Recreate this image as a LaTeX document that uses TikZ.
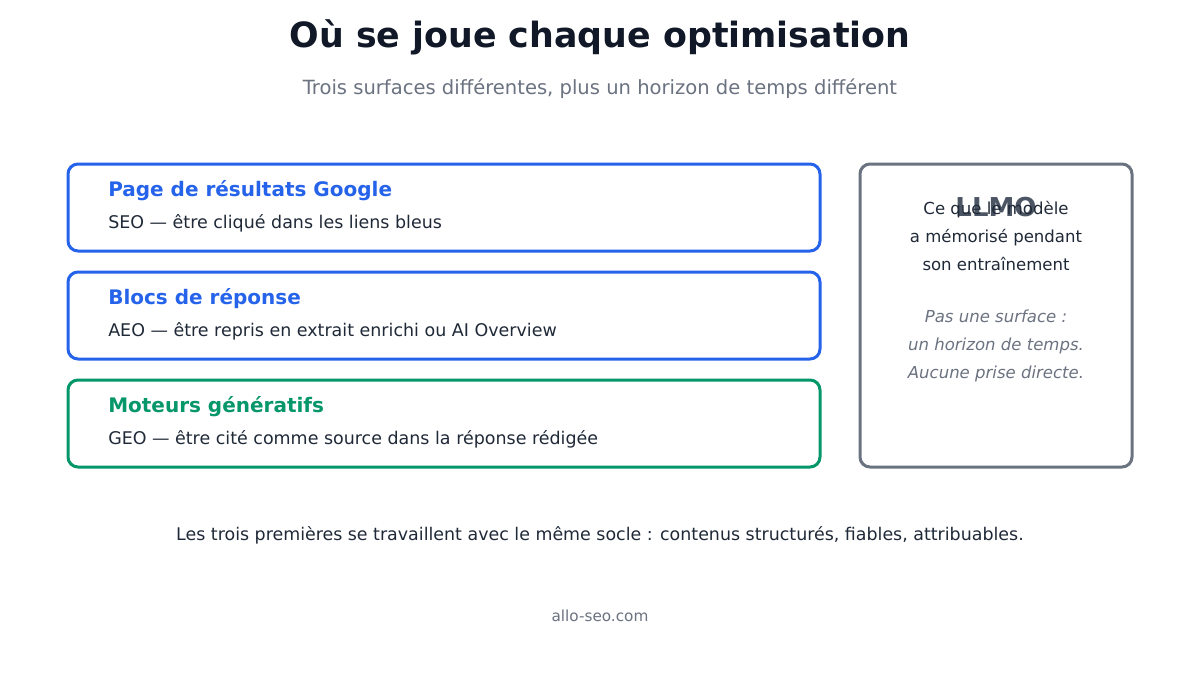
\documentclass[tikz,border=0pt]{standalone}
\usepackage{fontspec}
\setmainfont{DejaVu Sans}
\usepackage{xcolor}
\usetikzlibrary{positioning}
\definecolor{titledark}{HTML}{111827}
\definecolor{bodydark}{HTML}{1F2937}
\definecolor{mutedgray}{HTML}{6B7280}
\definecolor{labelgray}{HTML}{4B5563}
\definecolor{brightblue}{HTML}{2563EB}
\definecolor{accentgreen}{HTML}{059669}

\begin{document}
\begin{tikzpicture}[x=0.75pt, y=-0.75pt,
    surface/.style={line width=2.25pt, rounded corners=7.5pt, fill=white},
    boxtitle/.style={anchor=west, inner sep=0pt, font=\fontsize{15}{18}\selectfont\bfseries},
    boxbody/.style={anchor=west, inner sep=0pt, text=bodydark, font=\fontsize{13.1}{15}\selectfont},
    sideline/.style={inner sep=0pt, align=center, font=\fontsize{12.4}{21}\selectfont}]
    % Canvas
    \useasboundingbox[fill=white] (0,0) rectangle (1200,675);

    % Heading
    \node[text=titledark, font=\fontsize{26.1}{30}\selectfont\bfseries] (title) at (600,37) {Où se joue chaque optimisation};
    \node[text=mutedgray, font=\fontsize{14.66}{17}\selectfont] (subtitle) at (600,89) {Trois surfaces différentes, plus un horizon de temps différent};

    % Surfaces
    \draw[surface, draw=brightblue] (68,164) rectangle (820,251);
    \node[boxtitle, text=brightblue] (serp) at (108,191) {Page de résultats Google};
    \node[boxbody] (seo) at (108,223) {SEO — être cliqué dans les liens bleus};

    \draw[surface, draw=brightblue] (68,272) rectangle (820,359);
    \node[boxtitle, text=brightblue] (blocs) at (108,299) {Blocs de réponse};
    \node[boxbody] (aeo) at (108,331) {AEO — être repris en extrait enrichi ou AI Overview};

    \draw[surface, draw=accentgreen] (68,380) rectangle (820,467);
    \node[boxtitle, text=accentgreen] (moteurs) at (108,407) {Moteurs génératifs};
    \node[boxbody] (geo) at (108,439) {GEO — être cité comme source dans la réponse rédigée};

    % Time horizon
    \draw[surface, draw=mutedgray] (860,164) rectangle (1132,467);
    \node[text=labelgray, font=\fontsize{19.5}{23}\selectfont\bfseries] (llmo) at (996,207) {LLMO};
    \node[sideline, text=bodydark, anchor=north] (memoire) at (996,201) {Ce que le modèle\\a mémorisé pendant\\son entraînement};
    \node[sideline, text=mutedgray, anchor=north, font=\fontsize{12.4}{21}\selectfont\itshape] (horizon) at (996,310) {Pas une surface :\\un horizon de temps.\\Aucune prise directe.};

    % Footer
    \node[text=bodydark, font=\fontsize{13.07}{15}\selectfont] (socle) at (600,535) {Les trois premières se travaillent avec le même socle : contenus structurés, fiables, attribuables.};
    \node[text=mutedgray, font=\fontsize{11.45}{13}\selectfont] (site) at (600,616) {allo-seo.com};
\end{tikzpicture}
\end{document}
